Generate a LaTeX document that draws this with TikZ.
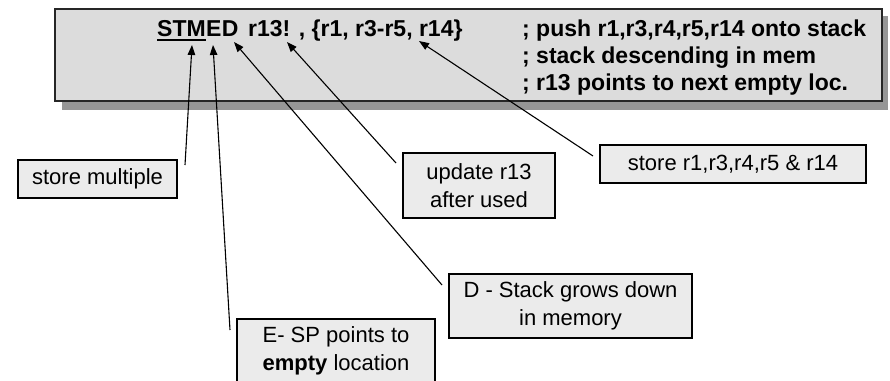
\documentclass[tikz,border=0pt]{standalone}
\usepackage{fontspec}
\setmainfont{Liberation Sans}
\usetikzlibrary{arrows.meta,positioning}
\definecolor{codeGray}{HTML}{DCDCDC}
\definecolor{noteGray}{HTML}{EBEBEB}
\definecolor{shadowGray}{HTML}{969696}
\tikzset{code text/.style={anchor=base west, inner sep=0pt, font=\fontsize{23}{27}\selectfont\bfseries}}
\tikzset{note box/.style={draw=black, line width=1.2pt, fill=noteGray, inner sep=0pt, align=center,
		font=\fontsize{22}{28}\selectfont}}
\tikzset{pointer/.style={-{Triangle[length=10pt,width=7.5pt]}, line width=1.1pt}}

\begin{document}
\begin{tikzpicture}[x=1pt,y=-1pt]
	\useasboundingbox (0,0) rectangle (890,380);
	% instruction panel with its shadow
	\fill[shadowGray] (62,16) rectangle (888,110);
	\draw[fill=codeGray, draw=black!85, line width=1.2pt] (55,9) rectangle (882,101);
	\node[code text] (stm) at (157,36) {STM};
	\draw[line width=2.2pt] ([yshift=-4pt]stm.base west) -- ([yshift=-4pt]stm.base east);
	\node[code text] (ltrE) at (stm.base east) {E};
	\node[code text] (ltrD) at (ltrE.base east) {D};
	\node[code text] (regs) at (248,36) {r13! , \{r1, r3-r5, r14\}};
	\node[code text] (cmt1) at (522,36) {; push r1,r3,r4,r5,r14 onto stack};
	\node[code text] (cmt2) at (522,63) {; stack descending in mem};
	\node[code text] (cmt3) at (522,90) {; r13 points to next empty loc.};
	% notes
	\node[note box, minimum width=159pt, minimum height=38pt] (multi) at (97.5,179) {store multiple};
	\node[note box, minimum width=152pt, minimum height=65pt] (upd) at (479,185.5) {update r13\\after used};
	\node[note box, minimum width=266pt, minimum height=38pt] (regnote) at (733,164) {store r1,r3,r4,r5 \& r14};
	\node[note box, minimum width=243pt, minimum height=64pt] (down) at (570.5,306) {D - Stack grows down\\in memory};
	\node[note box, minimum width=198pt, minimum height=64pt] (empty) at (336,351) {E- SP points to\\\textbf{empty} location};
	% pointer ends
	\coordinate (multiTip) at (192,45);
	\coordinate (multiFoot) at (185,165);
	\coordinate (emptyTip) at (213,45);
	\coordinate (emptyFoot) at (230,330);
	\coordinate (downTip) at (234,42);
	\coordinate (downFoot) at (442,285);
	\coordinate (updTip) at (287,42);
	\coordinate (updFoot) at (396,163);
	\coordinate (regTip) at (419,41);
	\coordinate (regFoot) at (593,156);
	\draw[pointer] (multiFoot) -- (multiTip);
	\draw[pointer] (emptyFoot) -- (emptyTip);
	\draw[pointer] (downFoot) -- (downTip);
	\draw[pointer] (updFoot) -- (updTip);
	\draw[pointer] (regFoot) -- (regTip);
\end{tikzpicture}
\end{document}
